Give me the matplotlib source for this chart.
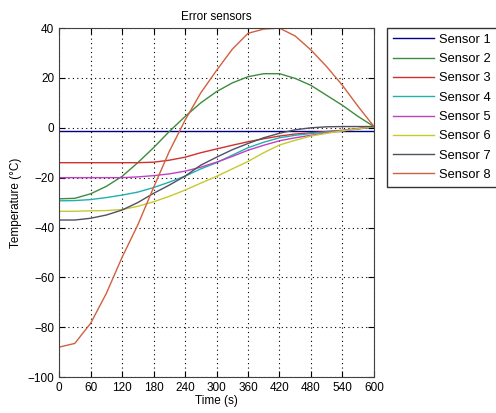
import numpy as np
import matplotlib.pyplot as plt

plt.rcParams['font.family'] = ['Liberation Sans', 'DejaVu Sans']

t = [0, 30, 60, 90, 120, 150, 180, 210, 240, 270, 300, 330, 360, 390, 420, 450, 480, 510, 540, 570, 600]

sensor1 = [-1.3] * 21
sensor2 = [-28.5, -28.3, -26.5, -23.5, -19.5, -14, -8, -1.5, 4.5, 10, 14.5, 18, 20.5, 21.7, 21.7, 19.8, 17, 13, 9, 4.5, 0.5]
sensor3 = [-14, -14, -14, -14, -14, -14, -13.8, -13, -11.8, -10, -8.5, -7, -5.6, -4.4, -3.3, -2.5, -2, -1.5, -1, -0.3, 0.5]
sensor4 = [-29.3, -29.2, -28.8, -28, -27, -25.8, -24, -21.8, -19.4, -16.5, -14, -11, -8, -5.8, -4, -3, -2.3, -1.7, -1.2, -0.5, 0.5]
sensor5 = [-20, -20, -20, -20, -20, -19.7, -19.2, -18.5, -17.4, -15.8, -13.8, -11.5, -9, -7, -5.2, -4, -3, -2, -1.2, -0.4, 0.5]
sensor6 = [-33.5, -33.5, -33.3, -33.2, -32.8, -31.5, -29.7, -27.5, -25, -22.2, -19.5, -16.5, -13.5, -10, -6.9, -5, -3.3, -2.2, -1.2, -0.4, 0.5]
sensor7 = [-37, -37, -36.3, -35, -33, -30, -26.3, -23, -19.4, -15, -11.8, -8.8, -6.3, -4, -2.2, -0.8, 0, 0.4, 0.5, 0.5, 0.5]
sensor8 = [-88, -86.5, -78.5, -66.5, -52, -39, -24, -9.5, 3, 14, 23, 31.5, 37.9, 39.6, 40, 36.8, 31.2, 24.5, 17, 8.5, 0.5]

series = [sensor1, sensor2, sensor3, sensor4, sensor5, sensor6, sensor7, sensor8]
labels = ['Sensor %d' % (i + 1) for i in range(8)]
colors = ['#00008b', '#3c8c3c', '#d03030', '#20b0b0', '#c040c0', '#c8c830', '#505060', '#d06040']

fig = plt.figure(figsize=(4.96, 4.13), dpi=100)
ax = fig.add_axes([0.119, 0.087, 0.635, 0.845])

for y, lab, c in zip(series, labels, colors):
    ax.plot(t, y, color=c, lw=1, label=lab)

ax.set_xlim(0, 600)
ax.set_ylim(-100, 40)
ax.set_xticks(np.arange(0, 601, 60))
ax.set_yticks(np.arange(-100, 41, 20))
ax.grid(True, color='black', linestyle=(0, (1, 3)), lw=0.8)
ax.tick_params(direction='in', top=True, right=True, labelsize=8.5, length=4)
for s in ax.spines.values():
    s.set_color('#404040')

ax.set_title('Error sensors', fontsize=8.5)
ax.set_xlabel('Time (s)', fontsize=8.5, labelpad=1)
ax.set_ylabel('Temperature (\u00b0C)', fontsize=8.5)

fig.legend(loc='upper left', bbox_to_anchor=(0.78, 0.932), fontsize=9.3,
           handlelength=3.2, frameon=True, fancybox=False, edgecolor='black',
           borderpad=0.45, labelspacing=0.56, handletextpad=0.4, borderaxespad=0)

fig.savefig('out.png', dpi=100)
